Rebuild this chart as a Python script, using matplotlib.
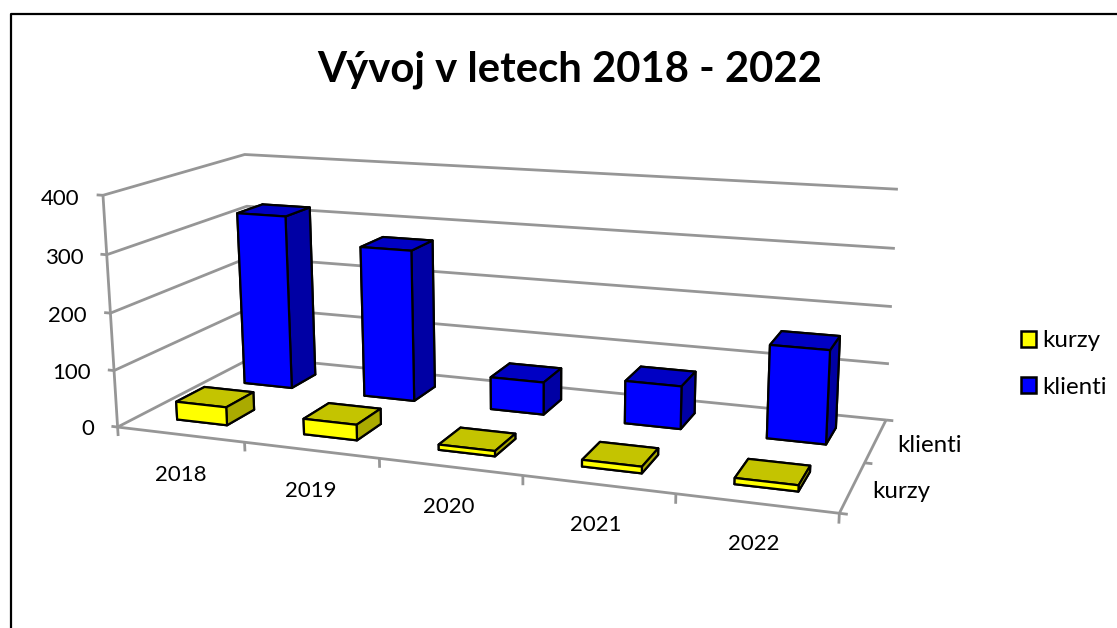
import matplotlib
matplotlib.use("Agg")
import matplotlib.pyplot as plt
from matplotlib.lines import Line2D
from matplotlib.patches import Patch
from mpl_toolkits.mplot3d import proj3d
import numpy as np

plt.rcParams["font.family"] = ["Lato", "DejaVu Sans"]

# Data
years = ["2018", "2019", "2020", "2021", "2022"]
series = ["kurzy", "klienti"]
kurzy = [32, 27, 9, 11, 10]
klienti = [320, 274, 58, 75, 160]
value_ticks = [0, 100, 200, 300, 400]

GRID = "#969696"
BAR = 0.4
FS = 16
FS_NAMES = 17.4

n = len(years)
d = len(series)

fig = plt.figure(figsize=(11.17, 6.28), dpi=100)
# camera fitted against the corners of the chart box
ax = fig.add_axes([0.16085, -0.0069, 628 / 1117, 1], projection="3d", computed_zorder=False)
ax.set_autoscale_on(False)
ax.view_init(13.8, -69.3964, 0.3242)
ax.set_proj_type("persp", focal_length=0.4943)
ax.set_box_aspect((1, 0.3892, 0.3269), zoom=1.2629)
ax.set_xlim(0, n)
ax.set_ylim(0, d)
ax.set_zlim(0, value_ticks[-1])
ax.set_axis_off()


def line3(xs, ys, zs, lw=2.0):
    ax.plot(xs, ys, zs, color=GRID, lw=lw, zorder=1, solid_capstyle="butt", clip_on=False)


def label3(x, y, z, s, **kw):
    # flat text at the projected position of a chart point
    px, py, _ = proj3d.proj_transform(x, y, z, ax.get_proj())
    ax.text2D(px, py, s, transform=ax.transData, va="center", **kw)


# walls
for v in value_ticks:
    line3([0, 0, n], [0, d, d], [v, v, v])
    line3([-0.05, 0], [0, 0], [v, v])
    label3(-0.19, 0, v - 8, str(v), ha="right", fontsize=FS)
# floor edges and ticks
line3([0, 0], [0, 0], [0, value_ticks[-1]])
line3([0, n, n], [0, 0, d], [0, 0, 0])
for i in range(n + 1):
    line3([i, i], [0, 0], [0, -16])
for j in range(d + 1):
    line3([n, n + 0.05], [j, j], [0, 0])

for i, y in enumerate(years):
    label3(i + 0.49, 0, -72 + 2 * i, y, ha="center", fontsize=FS)
label3(n + 0.145, 1.5, -4, series[1], ha="left", fontsize=FS_NAMES)
label3(n + 0.125, 0.5, -4, series[0], ha="left", fontsize=FS_NAMES)

# bars, faces are bottom, top, front, back, left, right
x = np.arange(n) + 0.5 - BAR / 2
blue = ["#0000ff", "#0000c4", "#0000ff", "#0000ff", "#0000ff", "#0000a4"] * n
yellow = ["#ffff00", "#c4c400", "#ffff00", "#ffff00", "#ffff00", "#aaaa00"] * n
b1 = ax.bar3d(x, np.full(n, 1.5 - BAR / 2), 0, BAR, BAR, klienti, color=blue, shade=False,
              edgecolor="black", linewidth=1.6, zorder=2)
b2 = ax.bar3d(x, np.full(n, 0.5 - BAR / 2), 0, BAR, BAR, kurzy, color=yellow, shade=False,
              edgecolor="black", linewidth=1.6, zorder=3)
b1.set_clip_on(False)
b2.set_clip_on(False)

ax.set_xlim(0, n)
ax.set_ylim(0, d)
ax.set_zlim(0, value_ticks[-1])

fig.text(570 / 1117, 1 - 70 / 628, "Vývoj v letech 2018 - 2022", ha="center", va="center",
         fontsize=30.2, fontweight="bold")

handles = [Patch(facecolor="#ffff00", edgecolor="black", lw=1.8),
           Patch(facecolor="#0000ff", edgecolor="black", lw=1.8)]
fig.legend(handles, series, loc="center left", bbox_to_anchor=(1021 / 1117, 1 - 364 / 628),
           frameon=False, fontsize=FS_NAMES, handlelength=0.62, handleheight=0.62,
           handletextpad=0.25, labelspacing=1.05, borderpad=0, borderaxespad=0)

# chart border, left and top only are inside the crop
fig.add_artist(Line2D([10.5 / 1117, 10.5 / 1117, 1], [0, 1 - 14 / 628, 1 - 14 / 628],
                      color="black", lw=1.6))

fig.savefig("out.png", dpi=100)
